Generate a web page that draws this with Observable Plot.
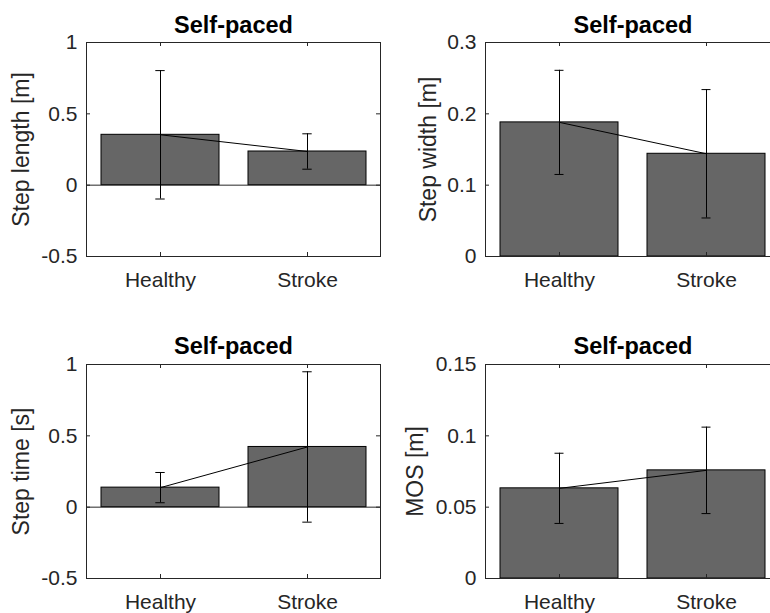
<!DOCTYPE html>
<html><head><meta charset="utf-8">
<script src="https://cdn.jsdelivr.net/npm/d3@7"></script>
<script src="https://cdn.jsdelivr.net/npm/@observablehq/plot@0.6"></script>
<style>
body{margin:0;background:#fff;}
#root{position:relative;width:770px;height:613px;overflow:hidden;background:#fff;}
.panel{position:absolute;}
.panel svg{overflow:visible;max-width:none !important;}
</style></head><body><div id="root"></div>
<script>
const categories = ["Healthy", "Stroke"];
const titles = ["Self-paced", "Self-paced", "Self-paced", "Self-paced"];
const yLabels = ["Step length [m]", "Step width [m]", "Step time [s]", "MOS [m]"];
const stepLengthMean = [0.353, 0.236];
const stepLengthSD = [0.450, 0.124];
const stepWidthMean = [0.188, 0.144];
const stepWidthSD = [0.073, 0.090];
const stepTimeMean = [0.137, 0.422];
const stepTimeSD = [0.106, 0.527];
const mosMean = [0.0632, 0.0758];
const mosSD = [0.0246, 0.0303];
const yDomains = [[-0.5, 1], [0, 0.3], [-0.5, 1], [0, 0.15]];
const yTicks = [[-0.5, 0, 0.5, 1], [0, 0.1, 0.2, 0.3], [-0.5, 0, 0.5, 1], [0, 0.05, 0.1, 0.15]];

const seriesMeans = [stepLengthMean, stepWidthMean, stepTimeMean, mosMean];
const seriesSD = [stepLengthSD, stepWidthSD, stepTimeSD, mosSD];

const layouts = [
  {left: 0,   top: 0,   width: 385, height: 306, ml: 86,  mr: 5, mt: 42, mb: 50, labelDx: -65, titleDy: -10},
  {left: 385, top: 0,   width: 400, height: 306, ml: 100, mr: 5, mt: 42, mb: 50, labelDx: -57, titleDy: -10},
  {left: 0,   top: 320, width: 385, height: 293, ml: 86,  mr: 5, mt: 44, mb: 35, labelDx: -65, titleDy: -11},
  {left: 385, top: 320, width: 400, height: 293, ml: 100, mr: 5, mt: 44, mb: 35, labelDx: -70, titleDy: -11}
];

const font = "'Liberation Sans', Arial, Helvetica, sans-serif";
const axisColor = "#262626";
const root = document.getElementById("root");

layouts.forEach((L, k) => {
  const data = categories.map((c, i) => ({
    cat: c,
    mean: seriesMeans[k][i],
    lo: seriesMeans[k][i] - seriesSD[k][i],
    hi: seriesMeans[k][i] + seriesSD[k][i]
  }));
  const W = L.width - L.ml - L.mr;
  const H = L.height - L.mt - L.mb;
  const bw = 0.4 * W;
  const capInset = (bw - 9) / 2;
  const tickLen = 4;
  const chart = Plot.plot({
    width: L.width,
    height: L.height,
    marginLeft: L.ml,
    marginRight: L.mr,
    marginTop: L.mt,
    marginBottom: L.mb,
    style: {fontFamily: font, background: "transparent", overflow: "visible", maxWidth: "none"},
    x: {type: "band", domain: categories, paddingInner: 0.2, paddingOuter: 0.1, align: 0.5, axis: null},
    y: {domain: yDomains[k], axis: null},
    marks: [
      Plot.barY(data, {x: "cat", y: "mean", fill: "#666666", stroke: "#000", strokeWidth: 1}),
      Plot.ruleY([0], {stroke: axisColor, strokeWidth: 1}),
      Plot.line(data, {x: "cat", y: "mean", stroke: "#000", strokeWidth: 1}),
      Plot.ruleX(data, {x: "cat", y1: "lo", y2: "hi", stroke: "#000", strokeWidth: 1}),
      Plot.tickY(data, {x: "cat", y: "hi", insetLeft: capInset, insetRight: capInset, stroke: "#000", strokeWidth: 1}),
      Plot.tickY(data, {x: "cat", y: "lo", insetLeft: capInset, insetRight: capInset, stroke: "#000", strokeWidth: 1}),
      Plot.frame({stroke: axisColor, strokeWidth: 1}),
      Plot.tickY(yTicks[k], {y: d => d, insetRight: W - tickLen, stroke: axisColor}),
      Plot.tickY(yTicks[k], {y: d => d, insetLeft: W - tickLen, stroke: axisColor}),
      Plot.tickX(categories, {x: d => d, insetTop: H - tickLen, stroke: axisColor}),
      Plot.tickX(categories, {x: d => d, insetBottom: H - tickLen, stroke: axisColor}),
      Plot.axisY({ticks: yTicks[k], tickSize: 0, tickPadding: 9, tickFormat: d => String(d), fontSize: 21, fill: axisColor, label: null}),
      Plot.axisX({tickSize: 0, tickPadding: 16, fontSize: 21, fill: axisColor, label: null}),
      Plot.text([yLabels[k]], {text: d => d, frameAnchor: "left", rotate: -90, dx: L.labelDx, textAnchor: "middle", lineAnchor: "middle", fontSize: 23, fill: axisColor}),
      Plot.text([titles[k]], {text: d => d, frameAnchor: "top", dy: L.titleDy, textAnchor: "middle", lineAnchor: "bottom", fontSize: 23.5, fontWeight: "bold", fill: "#000"})
    ]
  });
  const div = document.createElement("div");
  div.className = "panel";
  div.style.left = L.left + "px";
  div.style.top = L.top + "px";
  div.style.width = L.width + "px";
  div.style.height = L.height + "px";
  div.appendChild(chart);
  root.appendChild(div);
});
</script>
</body></html>
